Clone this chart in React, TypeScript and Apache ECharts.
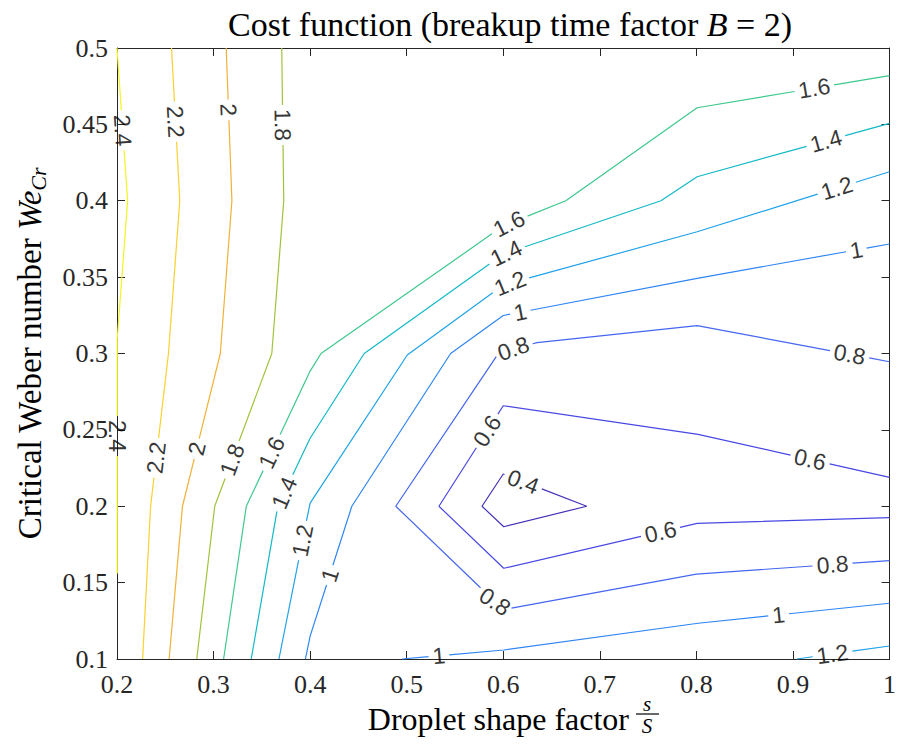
import React, { useEffect, useRef } from 'react';
import * as echarts from 'echarts';

// ---------- data ----------
const levels = [0.4, 0.6, 0.8, 1.0, 1.2, 1.4, 1.6, 1.8, 2.0, 2.2, 2.4];
const levelColors = ['#4433b8', '#4848e4', '#4466f0', '#2f86f4', '#1fa2e8', '#12b9c6', '#3ec88e', '#9fc43c', '#f0b138', '#fbd12f', '#f4f41e'];

const xTicks = { min: 0.2, max: 1, interval: 0.1 };
const yTicks = { min: 0.1, max: 0.5, interval: 0.05 };

// contour polylines [x, y]
const c04 = [[0.6864, 0.2], [0.6005, 0.1866], [0.578, 0.2], [0.6, 0.2211], [0.6864, 0.2]];
const c06 = [[1.0, 0.2189], [0.8018, 0.2471], [0.6, 0.2658], [0.5334, 0.2], [0.6005, 0.1594], [0.8008, 0.1888], [1.0, 0.1925]];
const c08 = [[1.0, 0.2946], [0.8008, 0.3182], [0.635, 0.3071], [0.596, 0.301], [0.4887, 0.2], [0.6, 0.1323], [0.8, 0.1556], [1.0, 0.1644]];
const c10a = [[1.0, 0.3717], [0.8008, 0.3492], [0.6, 0.3249], [0.5455, 0.3], [0.4432, 0.2], [0.4, 0.115], [0.3951, 0.1]];
const c10b = [[0.4951, 0.1], [0.6005, 0.1059], [0.8018, 0.1234], [1.0, 0.1365]];
const c12a = [[1.0, 0.419], [0.8008, 0.3797], [0.6, 0.3448], [0.5006, 0.299], [0.4, 0.202], [0.3967, 0.192], [0.3677, 0.1]];
const c12b = [[0.904, 0.1], [1.0, 0.1085]];
const c14 = [[1.0, 0.4507], [0.8008, 0.4157], [0.7633, 0.4], [0.6, 0.3651], [0.456, 0.3], [0.4, 0.2445], [0.3665, 0.2], [0.339, 0.1]];
const c16 = [[1.0, 0.4819], [0.8008, 0.4609], [0.6648, 0.4], [0.6, 0.3835], [0.4113, 0.3], [0.4, 0.2885], [0.3339, 0.2], [0.3104, 0.1]];
const c18 = [[0.3706, 0.5], [0.3727, 0.4], [0.3603, 0.3], [0.3012, 0.2], [0.2826, 0.1]];
const c20 = [[0.3131, 0.5], [0.319, 0.4], [0.307, 0.3], [0.2678, 0.2], [0.254, 0.1]];
const c22 = [[0.2565, 0.5], [0.265, 0.4], [0.2533, 0.3], [0.2348, 0.2], [0.2265, 0.1]];
const c24 = [[0.2, 0.5], [0.211, 0.4], [0.2003, 0.31], [0.2003, 0.156]];

const contours: { level: number; pts: number[][] }[] = [
  { level: 0.4, pts: c04 },
  { level: 0.6, pts: c06 },
  { level: 0.8, pts: c08 },
  { level: 1.0, pts: c10a },
  { level: 1.0, pts: c10b },
  { level: 1.2, pts: c12a },
  { level: 1.2, pts: c12b },
  { level: 1.4, pts: c14 },
  { level: 1.6, pts: c16 },
  { level: 1.8, pts: c18 },
  { level: 2.0, pts: c20 },
  { level: 2.2, pts: c22 },
  { level: 2.4, pts: c24 },
];

// contour labels: [level, x, y] (approximate spot, snapped onto the line)
const contourLabels = [
  [2.4, 0.204, 0.446], [2.2, 0.258, 0.4516], [2.0, 0.3135, 0.4594], [1.8, 0.371, 0.4496],
  [2.4, 0.2, 0.246], [2.2, 0.2423, 0.2316], [2.0, 0.2836, 0.2375], [1.8, 0.3228, 0.2296],
  [1.6, 0.361, 0.2349], [1.4, 0.3734, 0.2087], [1.2, 0.395, 0.1772], [1.0, 0.4199, 0.155],
  [1.6, 0.6057, 0.3854], [1.4, 0.6036, 0.3645], [1.2, 0.6077, 0.3442], [1.0, 0.618, 0.3259],
  [0.8, 0.6108, 0.3023], [1.6, 0.9226, 0.4718], [1.4, 0.935, 0.4372], [1.2, 0.9463, 0.4064],
  [1.0, 0.966, 0.3664], [0.8, 0.9587, 0.2997], [0.6, 0.585, 0.2486], [0.4, 0.6201, 0.2152],
  [0.6, 0.9174, 0.2296], [0.6, 0.7636, 0.1812], [0.8, 0.592, 0.138], [0.8, 0.9412, 0.1602],
  [1.0, 0.5334, 0.102], [1.0, 0.8854, 0.1275], [1.2, 0.9412, 0.1026],
];

const titleParts = ['Cost function (breakup time factor ', 'B', ' = 2)'];
const xNameParts = ['Droplet shape factor', 's', 'S'];
const yNameParts = ['Critical Weber number ', 'We', 'Cr'];

// ---------- styling ----------
const AXIS_COLOR = '#262626';
const SERIF = '"Liberation Serif", "DejaVu Serif", serif';
const SANS = '"Liberation Sans", Arial, Helvetica, sans-serif';
const LABEL_SIZE = 23;

const colorOf = (lev: number) => levelColors[levels.findIndex((l) => Math.abs(l - lev) < 1e-6)];
const fmtLevel = (lev: number) => String(Number(lev.toFixed(1)));
const textWidth = (t: string) => {
  let w = 0;
  for (const ch of t) w += ch === '.' ? 0.278 : 0.556;
  return w * LABEL_SIZE;
};

function axisCommon(position: string, showLabel: boolean) {
  return {
    type: 'value',
    position,
    axisLine: { show: true, onZero: false, lineStyle: { color: AXIS_COLOR, width: 1 } },
    axisTick: { show: true, inside: true, length: 8, lineStyle: { color: AXIS_COLOR, width: 1 } },
    splitLine: { show: false },
    axisLabel: {
      show: showLabel,
      color: AXIS_COLOR,
      fontFamily: SERIF,
      fontSize: 26,
    },
  };
}

function baseOption(series: any[]) {
  return {
    animation: false,
    backgroundColor: '#ffffff',
    title: {
      text: `{a|${titleParts[0]}}{b|${titleParts[1]}}{a|${titleParts[2]}}`,
      left: 505,
      top: 2,
      textAlign: 'center',
      textStyle: {
        fontWeight: 'normal',
        rich: {
          a: { fontFamily: SERIF, fontSize: 34, fontWeight: 'normal', color: '#000' },
          b: { fontFamily: SERIF, fontSize: 34, fontWeight: 'normal', fontStyle: 'italic', color: '#000' },
        },
      },
    },
    grid: { left: 117, right: 7, top: 48, bottom: 90, containLabel: false },
    xAxis: [
      { ...axisCommon('bottom', true), min: xTicks.min, max: xTicks.max, interval: xTicks.interval,
        axisLabel: { ...axisCommon('bottom', true).axisLabel, margin: 12 } },
      { ...axisCommon('top', false), min: xTicks.min, max: xTicks.max, interval: xTicks.interval },
    ],
    yAxis: [
      { ...axisCommon('left', true), min: yTicks.min, max: yTicks.max, interval: yTicks.interval,
        axisLabel: { ...axisCommon('left', true).axisLabel, margin: 9 },
        name: `{a|${yNameParts[0]}}{b|${yNameParts[1]}}{c|${yNameParts[2]}}`,
        nameLocation: 'middle',
        nameRotate: 90,
        nameGap: 68,
        nameTextStyle: {
          rich: {
            a: { fontFamily: SERIF, fontSize: 33, color: '#000', lineHeight: 38 },
            b: { fontFamily: SERIF, fontSize: 33, fontStyle: 'italic', color: '#000', lineHeight: 38 },
            c: { fontFamily: SERIF, fontSize: 22, fontStyle: 'italic', color: '#000', lineHeight: 22, verticalAlign: 'bottom', padding: [16, 0, 0, 0] },
          },
        },
      },
      { ...axisCommon('right', false), min: yTicks.min, max: yTicks.max, interval: yTicks.interval },
    ],
    graphic: [
      { type: 'text', x: 629, y: 719, style: { text: xNameParts[0], font: `32px ${SERIF}`, fill: '#000', align: 'right', verticalAlign: 'middle' } },
      { type: 'text', x: 647, y: 704, style: { text: xNameParts[1], font: `italic 21px ${SERIF}`, fill: '#000', align: 'center', verticalAlign: 'middle' } },
      { type: 'line', shape: { x1: 636, y1: 714, x2: 659, y2: 714 }, style: { stroke: '#000', lineWidth: 1.2 } },
      { type: 'text', x: 647, y: 726, style: { text: xNameParts[2], font: `italic 21px ${SERIF}`, fill: '#000', align: 'center', verticalAlign: 'middle' } },
    ],
    series,
  };
}

function lineSeries(level: number, data: number[][]) {
  return {
    type: 'line',
    xAxisIndex: 0,
    yAxisIndex: 0,
    data,
    showSymbol: false,
    symbol: 'none',
    silent: true,
    clip: false,
    lineStyle: { color: colorOf(level), width: 1.2 },
    z: 2,
  };
}

function pointAt(P: number[][], s: number): number[] {
  let acc = 0;
  for (let i = 0; i < P.length - 1; i++) {
    const a = P[i], b = P[i + 1];
    const len = Math.hypot(b[0] - a[0], b[1] - a[1]);
    if (acc + len >= s || i === P.length - 2) {
      const t = len > 0 ? Math.max(0, Math.min(1, (s - acc) / len)) : 0;
      return [a[0] + t * (b[0] - a[0]), a[1] + t * (b[1] - a[1])];
    }
    acc += len;
  }
  return P[P.length - 1];
}

function cumLengths(P: number[][]) {
  const c = [0];
  for (let i = 1; i < P.length; i++) c.push(c[i - 1] + Math.hypot(P[i][0] - P[i - 1][0], P[i][1] - P[i - 1][1]));
  return c;
}

function subPath(P: number[][], cum: number[], s1: number, s2: number) {
  const out = [pointAt(P, s1)];
  for (let i = 0; i < P.length; i++) if (cum[i] > s1 && cum[i] < s2) out.push(P[i]);
  out.push(pointAt(P, s2));
  return out;
}

export default function App() {
  const ref = useRef<HTMLDivElement>(null);
  useEffect(() => {
    if (!ref.current) return;
    const chart = echarts.init(ref.current, null, { renderer: 'svg' });
    chart.setOption(baseOption(contours.map((c) => lineSeries(c.level, c.pts))));

    const toPx = (p: number[]) => chart.convertToPixel({ seriesIndex: 0 }, p) as number[];
    const fromPx = (p: number[]) => chart.convertFromPixel({ seriesIndex: 0 }, p) as number[];
    const pxPaths = contours.map((c) => c.pts.map(toPx));
    const cums = pxPaths.map(cumLengths);
    const gaps: number[][][] = contours.map(() => []);
    const labelItems: any[] = [];

    contourLabels.forEach(([lev, lx, ly]) => {
      const lp = toPx([lx, ly]);
      let best = { d: Infinity, ci: -1, s: 0, pt: [0, 0] };
      contours.forEach((c, ci) => {
        if (Math.abs(c.level - lev) > 1e-6) return;
        const P = pxPaths[ci];
        let acc = 0;
        for (let i = 0; i < P.length - 1; i++) {
          const a = P[i], b = P[i + 1];
          const dx = b[0] - a[0], dy = b[1] - a[1];
          const len2 = dx * dx + dy * dy;
          const len = Math.sqrt(len2);
          let t = len2 > 0 ? ((lp[0] - a[0]) * dx + (lp[1] - a[1]) * dy) / len2 : 0;
          t = Math.max(0, Math.min(1, t));
          const q = [a[0] + t * dx, a[1] + t * dy];
          const d = Math.hypot(q[0] - lp[0], q[1] - lp[1]);
          if (d < best.d) best = { d, ci, s: acc + t * len, pt: q };
          acc += len;
        }
      });
      if (best.ci < 0) return;
      const text = fmtLevel(lev);
      const w = textWidth(text) / 2 + 4;
      const P = pxPaths[best.ci];
      const p1 = pointAt(P, best.s - w);
      const p2 = pointAt(P, best.s + w);
      let ang = (-Math.atan2(p2[1] - p1[1], p2[0] - p1[0]) * 180) / Math.PI;
      if (ang > 90) ang -= 180;
      if (ang < -90) ang += 180;
      gaps[best.ci].push([best.s - w, best.s + w]);
      labelItems.push({ value: fromPx(best.pt), label: { rotate: ang, formatter: text } });
    });

    const series: any[] = [];
    contours.forEach((c, ci) => {
      const P = pxPaths[ci];
      const cum = cums[ci];
      const total = cum[cum.length - 1];
      const g = gaps[ci].slice().sort((a, b) => a[0] - b[0]);
      let start = 0;
      const intervals: number[][] = [];
      g.forEach(([a, b]) => {
        if (a > start) intervals.push([start, a]);
        start = Math.max(start, b);
      });
      if (start < total) intervals.push([start, total]);
      intervals.forEach(([s1, s2]) => {
        if (s2 - s1 < 0.5) return;
        series.push(lineSeries(c.level, subPath(P, cum, s1, s2).map(fromPx)));
      });
    });
    series.push({
      type: 'scatter',
      xAxisIndex: 0,
      yAxisIndex: 0,
      symbolSize: 0,
      silent: true,
      clip: false,
      z: 5,
      data: labelItems,
      label: {
        show: true,
        position: 'inside',
        color: '#000',
        fontFamily: SANS,
        fontSize: LABEL_SIZE,
      },
    });
    chart.setOption(baseOption(series), { notMerge: true });

    return () => chart.dispose();
  }, []);
  return <div ref={ref} style={{ position: 'fixed', left: 0, top: 0, width: 899, height: 749 }} />;
}
